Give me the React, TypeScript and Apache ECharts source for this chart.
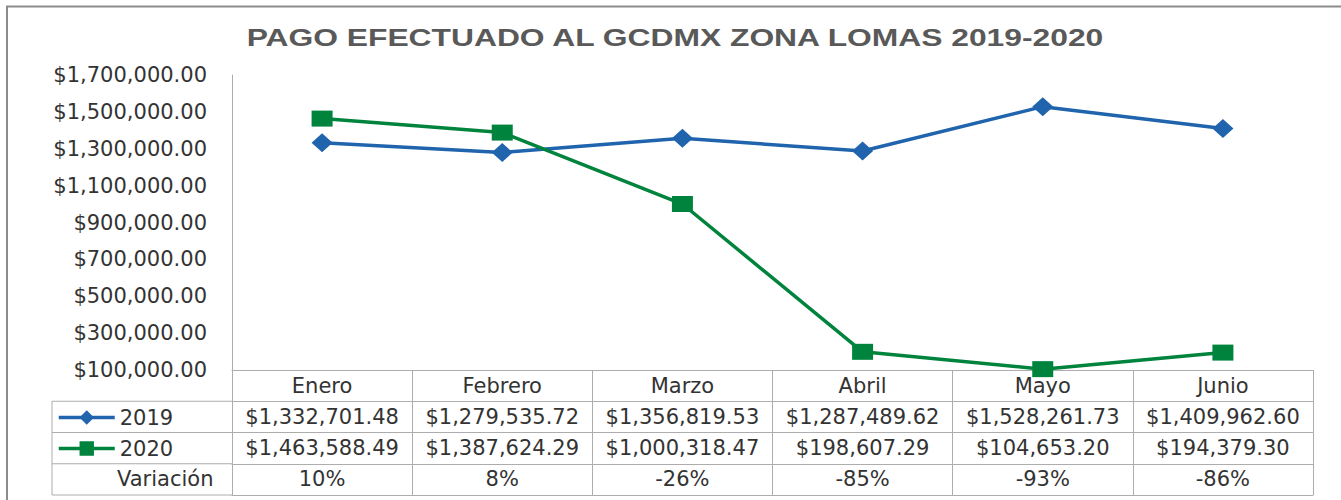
import { useEffect, useRef } from 'react';
import * as echarts from 'echarts';

const TITLE = 'PAGO EFECTUADO AL GCDMX ZONA LOMAS 2019-2020';
const MONTHS = ['Enero', 'Febrero', 'Marzo', 'Abril', 'Mayo', 'Junio'];
const SERIES_NAMES = ['2019', '2020'];
const PAGO_2019 = [1332701.48, 1279535.72, 1356819.53, 1287489.62, 1528261.73, 1409962.6];
const PAGO_2020 = [1463588.49, 1387624.29, 1000318.47, 198607.29, 104653.2, 194379.3];
const VARIACION = [10, 8, -26, -85, -93, -86];
const VARIACION_LABEL = 'Variación';
const Y_TICKS = [100000, 300000, 500000, 700000, 900000, 1100000, 1300000, 1500000, 1700000];

const FONT = 'DejaVu Sans';
const TEXT = '#333333';
const GRID = '#ADADAD';
const BLUE = '#1F64AD';
const GREEN = '#00843D';
const FS = 21;

const money = (v: number) =>
  '$' + v.toLocaleString('en-US', { minimumFractionDigits: 2, maximumFractionDigits: 2 });

const GRID_LEFT = 232;
const GRID_TOP = 75;
const GRID_W = 1081;
const GRID_H = 295;
const ROW = 31.25;

function tableAxis(data: string[], offset: number, showLabel = true, showTick = true) {
  return {
    type: 'category',
    position: 'bottom',
    offset,
    data,
    boundaryGap: true,
    axisLine: { show: true, lineStyle: { color: GRID, width: 1 } },
    axisTick: { show: showTick, length: ROW, alignWithLabel: false, interval: 0, lineStyle: { color: GRID, width: 1 } },
    axisLabel: { show: showLabel, interval: 0, margin: 5, fontFamily: FONT, fontSize: FS, color: TEXT },
    splitLine: { show: false },
  };
}

export default function App() {
  const ref = useRef<HTMLDivElement>(null);
  useEffect(() => {
    if (!ref.current) return;
    const chart = echarts.init(ref.current, undefined, { renderer: 'svg' });
    const step = (Y_TICKS[1] - Y_TICKS[0]) / 2;
    const base = GRID_TOP + GRID_H;
    const legendRows = [base + ROW, base + 2 * ROW, base + 3 * ROW, base + 4 * ROW];
    chart.setOption({
      animation: false,
      backgroundColor: '#ffffff',
      grid: { left: GRID_LEFT, top: GRID_TOP, width: GRID_W, height: GRID_H, containLabel: false },
      legend: {
        data: SERIES_NAMES,
        orient: 'vertical',
        left: 57,
        top: 407,
        padding: 0,
        itemWidth: 56,
        itemHeight: 18,
        itemGap: 10,
        selectedMode: false,
        lineStyle: { width: 3.5 },
        textStyle: { fontFamily: FONT, fontSize: FS, color: TEXT },
      },
      xAxis: [
        tableAxis(MONTHS, 0),
        tableAxis(PAGO_2019.map(money), ROW),
        tableAxis(PAGO_2020.map(money), 2 * ROW),
        tableAxis(VARIACION.map((v) => v + '%'), 3 * ROW),
        tableAxis(MONTHS.map(() => ''), 4 * ROW, false, false),
      ],
      yAxis: {
        type: 'value',
        min: Y_TICKS[0],
        max: Y_TICKS[Y_TICKS.length - 1],
        interval: step,
        axisLine: { show: true, lineStyle: { color: GRID, width: 1 } },
        axisTick: { show: false },
        splitLine: { show: false },
        axisLabel: {
          margin: 25,
          fontFamily: FONT,
          fontSize: FS,
          color: TEXT,
          formatter: (v: number) => (Y_TICKS.includes(v) ? money(v) : ''),
        },
      },
      series: [
        {
          name: SERIES_NAMES[0],
          type: 'line',
          data: PAGO_2019,
          symbol: 'diamond',
          symbolSize: [21, 19],
          lineStyle: { color: BLUE, width: 3.5 },
          itemStyle: { color: BLUE },
          z: 2,
        },
        {
          name: SERIES_NAMES[1],
          type: 'line',
          data: PAGO_2020,
          symbol: 'rect',
          symbolSize: [21, 16],
          lineStyle: { color: GREEN, width: 3.5 },
          itemStyle: { color: GREEN },
          z: 3,
        },
      ],
      graphic: [
        {
          type: 'rect',
          shape: { x: 7, y: 6.5, width: 1500, height: 700 },
          style: { fill: 'none', stroke: '#8C8C8C', lineWidth: 2 },
          silent: true,
        },
        {
          type: 'text',
          x: 675,
          y: 37,
          scaleX: 1.325,
          style: {
            text: TITLE,
            fontFamily: 'Liberation Sans',
            fontWeight: 'bold',
            fontSize: 24,
            fill: '#595959',
            textAlign: 'center',
            textVerticalAlign: 'middle',
          },
        },
        ...legendRows.map((y) => ({
          type: 'line',
          shape: { x1: 52, y1: y, x2: GRID_LEFT, y2: y },
          style: { stroke: GRID, lineWidth: 1 },
          silent: true,
        })),
        {
          type: 'line',
          shape: { x1: 52, y1: legendRows[0], x2: 52, y2: legendRows[3] },
          style: { stroke: GRID, lineWidth: 1 },
          silent: true,
        },
        {
          type: 'text',
          x: 117,
          y: (legendRows[2] + legendRows[3]) / 2,
          style: {
            text: VARIACION_LABEL,
            fontFamily: FONT,
            fontSize: FS,
            fill: TEXT,
            textAlign: 'left',
            textVerticalAlign: 'middle',
          },
        },
      ],
    });
    return () => chart.dispose();
  }, []);
  return (
    <div
      ref={ref}
      style={{ position: 'absolute', left: 0, top: 0, width: 1341, height: 500, background: '#fff' }}
    />
  );
}
